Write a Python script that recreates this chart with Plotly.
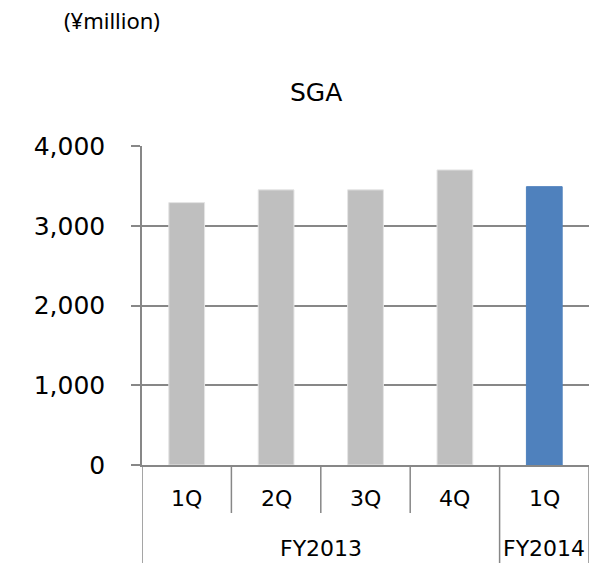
import plotly.graph_objects as go

# ---- data ----
quarters = ["1Q", "2Q", "3Q", "4Q", "1Q"]
fiscal_years = ["FY2013", "FY2013", "FY2013", "FY2013", "FY2014"]
sga_values = [3290, 3450, 3450, 3700, 3490]
bar_colors = ["#BFBFBF", "#BFBFBF", "#BFBFBF", "#BFBFBF", "#4F81BD"]
bar_edge_colors = ["#E4E4E4", "#E4E4E4", "#E4E4E4", "#E4E4E4", "#4F81BD"]
y_ticks = [0, 1000, 2000, 3000, 4000]

W, H = 592, 563
ML, MR, MT, MB = 142, 3, 146, 98
PH = H - MT - MB
GRAY = "#878787"
FONT = "DejaVu Sans"

idx = list(range(len(quarters)))

fig = go.Figure()
fig.add_trace(go.Bar(
    x=idx, y=sga_values,
    marker=dict(color=bar_colors, line=dict(width=1, color=bar_edge_colors)),
    width=0.4, showlegend=False, hoverinfo="skip",
))

shapes = []
annotations = []

def px_to_paper_y(py):
    return (H - MB - py) / PH

# quarter labels
for i, q in enumerate(quarters):
    annotations.append(dict(x=i, xref="x", y=px_to_paper_y(499), yref="paper",
                            text=q, showarrow=False, xanchor="center", yanchor="middle",
                            font=dict(family=FONT, size=22, color="#000000")))

# group dividers / labels
groups = []
for i, fy in enumerate(fiscal_years):
    if groups and groups[-1][0] == fy:
        groups[-1][2] = i
    else:
        groups.append([fy, i, i])

short_bottom = px_to_paper_y(513)
long_bottom = px_to_paper_y(H + 5)
boundaries_long = set()
for fy, a, b in groups:
    boundaries_long.add(a - 0.5)
    boundaries_long.add(b + 0.5)
    annotations.append(dict(x=(a + b) / 2, xref="x", y=px_to_paper_y(548), yref="paper",
                            text=fy, showarrow=False, xanchor="center", yanchor="middle",
                            font=dict(family=FONT, size=22, color="#000000")))
for i in range(len(quarters) + 1):
    xb = i - 0.5
    y1 = long_bottom if xb in boundaries_long else short_bottom
    shapes.append(dict(type="line", xref="x", yref="paper", x0=xb, x1=xb, y0=0, y1=y1,
                       line=dict(color=GRAY, width=1.5)))

# title and unit
annotations.append(dict(x=(316 - ML) / (W - ML - MR), xref="paper", y=px_to_paper_y(93), yref="paper",
                        text="SGA", showarrow=False, xanchor="center", yanchor="middle",
                        font=dict(family=FONT, size=25, color="#000000")))
annotations.append(dict(x=(112 - ML) / (W - ML - MR), xref="paper", y=px_to_paper_y(20), yref="paper",
                        text="(¥million)", showarrow=False, xanchor="center", yanchor="middle",
                        font=dict(family="Noto Sans", size=22, color="#000000")))

fig.update_layout(
    width=W, height=H, autosize=False,
    margin=dict(l=ML, r=MR, t=MT, b=MB, pad=0),
    paper_bgcolor="white", plot_bgcolor="white",
    bargap=0.6,
    shapes=shapes, annotations=annotations,
    xaxis=dict(range=[-0.5, len(quarters) - 0.5], showticklabels=False, showgrid=False,
               zeroline=False, showline=True, linecolor=GRAY, linewidth=1.5, ticks="",
               fixedrange=True),
    yaxis=dict(range=[0, 4000], tickvals=y_ticks, tickformat=",", showgrid=True,
               gridcolor=GRAY, gridwidth=1.5, zeroline=False, showline=True,
               linecolor=GRAY, linewidth=1.5, ticks="outside", ticklen=9, tickcolor=GRAY,
               tickwidth=1.5, ticklabelstandoff=21,
               tickfont=dict(family=FONT, size=25, color="#000000"), fixedrange=True),
)

fig.write_html("out.html", config={"displayModeBar": False})
